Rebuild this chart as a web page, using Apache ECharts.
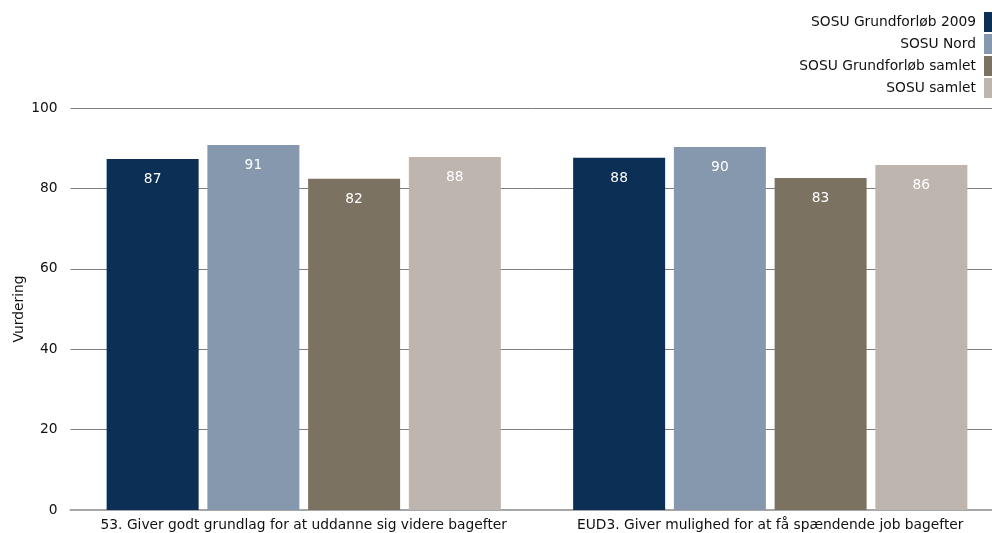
<!DOCTYPE html>
<html><head><meta charset="utf-8">
<script src="https://cdn.jsdelivr.net/npm/echarts@6/dist/echarts.min.js"></script>
<style>html,body{margin:0;padding:0;background:#fff;overflow:hidden}#c{width:992px;height:533px}</style>
</head><body><div id="c"></div>
<script>
const categories = ['53. Giver godt grundlag for at uddanne sig videre bagefter', 'EUD3. Giver mulighed for at få spændende job bagefter'];
const seriesNames = ['SOSU Grundforløb 2009', 'SOSU Nord', 'SOSU Grundforløb samlet', 'SOSU samlet'];
const grundforloeb2009 = [87.3, 87.6];
const sosuNord = [90.8, 90.3];
const grundforloebSamlet = [82.4, 82.6];
const sosuSamlet = [87.8, 85.8];
const colors = ['#0c2f56', '#8598ad', '#7c7262', '#bdb5ae'];
const FONT = 'DejaVu Sans, sans-serif';
const values = [grundforloeb2009, sosuNord, grundforloebSamlet, sosuSamlet];

const chart = echarts.init(document.getElementById('c'), null, {renderer: 'canvas'});
chart.setOption({
  animation: false,
  textStyle: {fontFamily: FONT},
  grid: {left: 70.5, width: 933, top: 108, bottom: 23, containLabel: false, outerBoundsMode: 'none'},
  legend: {
    orient: 'vertical', right: 0, top: 12, align: 'right', padding: 0,
    itemWidth: 8, itemHeight: 20, itemGap: 2,
    icon: 'rect',
    textStyle: {fontFamily: FONT, fontSize: 13.8, color: '#111', padding: [0, 3, 0, 0]},
    data: seriesNames
  },
  xAxis: {
    type: 'category', data: categories,
    axisLine: {show: true, lineStyle: {color: '#a6a6a6', width: 2}},
    axisTick: {show: false},
    axisLabel: {fontFamily: FONT, fontSize: 13.8, color: '#111', margin: 8, interval: 0, hideOverlap: false}
  },
  yAxis: {
    type: 'value', min: 0, max: 100, interval: 20,
    name: 'Vurdering', nameLocation: 'middle', nameGap: 44, nameRotate: 90, nameMoveOverlap: false,
    nameTextStyle: {fontFamily: FONT, fontSize: 13.8, color: '#111'},
    axisLine: {show: false}, axisTick: {show: false},
    axisLabel: {fontFamily: FONT, fontSize: 13.8, color: '#111', margin: 13},
    splitLine: {lineStyle: {color: '#7f7f7f', width: 1}}
  },
  series: seriesNames.map((n, i) => ({
    name: n, type: 'bar', data: values[i],
    barWidth: 92, barGap: '9.5%',
    itemStyle: {color: colors[i]},
    label: {show: true, position: 'insideTop', distance: 13.5, color: '#fff',
      fontFamily: FONT, fontSize: 13.8,
      formatter: p => Math.round(p.value)}
  }))
});
</script></body></html>
